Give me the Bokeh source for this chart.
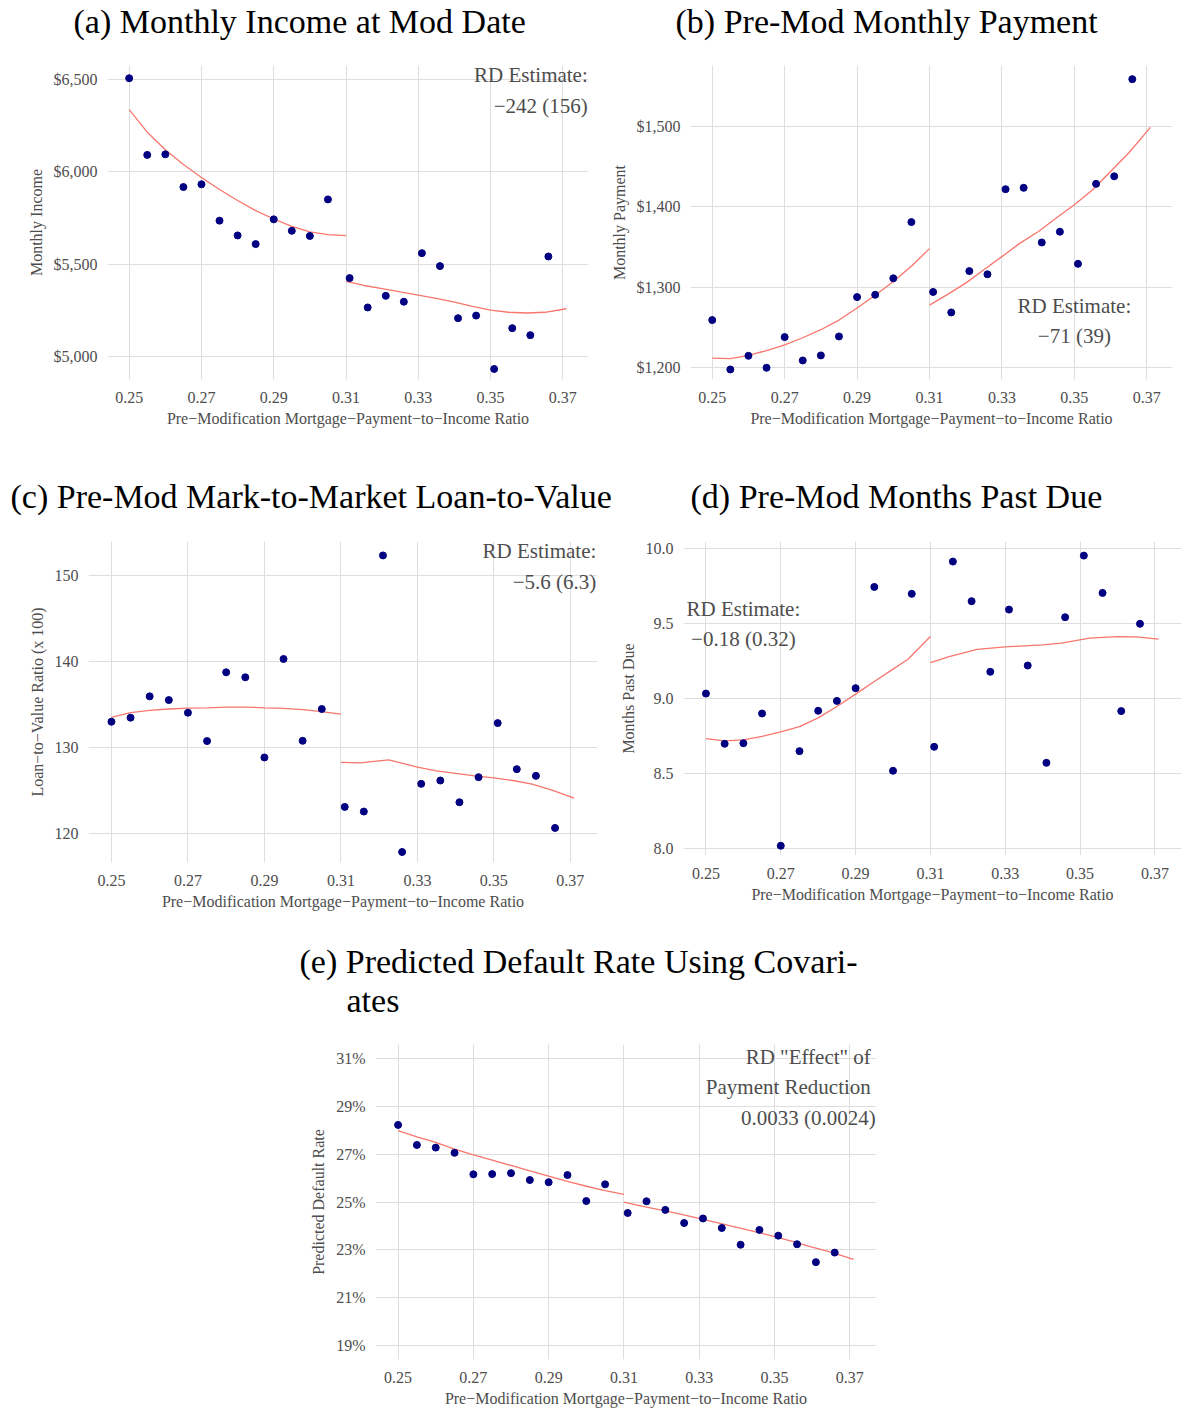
from bokeh.plotting import figure
from bokeh.models import Range1d, FixedTicker, Title, ColumnDataSource
from bokeh.layouts import column, row
from bokeh.embed import file_html
from bokeh.resources import INLINE
from bokeh.core.properties import value

FONT = "Liberation Serif"
TXT = "#4d4d4d"
GRID = "#dedede"
PT = "#000080"
FIT = "#F8766D"

# ---------------- data ----------------
x_left = [0.250, 0.255, 0.260, 0.265, 0.270, 0.275, 0.280, 0.285, 0.290, 0.295, 0.300, 0.305]
x_right = [0.311, 0.316, 0.321, 0.326, 0.331, 0.336, 0.341, 0.346, 0.351, 0.356, 0.361, 0.366]

fit_x_left = [0.250, 0.255, 0.260, 0.265, 0.270, 0.275, 0.280, 0.285, 0.290, 0.295, 0.300, 0.305, 0.310]
fit_x_right = [0.310, 0.315, 0.320, 0.325, 0.330, 0.335, 0.340, 0.345, 0.350, 0.355, 0.360, 0.365, 0.371]

income_left = [6507, 6092, 6095, 5918, 5933, 5736, 5656, 5609, 5743, 5681, 5653, 5851]
income_right = [5425, 5266, 5329, 5297, 5560, 5490, 5208, 5222, 4933, 5154, 5116, 5542]
income_fit_left = [6337, 6215, 6120, 6040, 5970, 5905, 5845, 5790, 5745, 5705, 5675, 5660, 5655]
income_fit_right = [5407, 5385, 5368, 5350, 5333, 5315, 5295, 5272, 5252, 5240, 5236, 5240, 5259]

payment_left = [1259, 1197.5, 1214.5, 1199.6, 1237.8, 1208.7, 1215, 1238.6, 1287.6, 1290.5, 1311, 1381]
payment_right = [1294, 1268.5, 1320, 1316, 1422, 1423.7, 1355.6, 1369, 1329, 1428.6, 1438, 1559]
payment_fit_left = [1211.6, 1211, 1215, 1221, 1228, 1237, 1247, 1259, 1274, 1290, 1307, 1326, 1348]
payment_fit_right = [1277.6, 1291, 1305, 1321.6, 1338, 1354.8, 1369, 1386, 1402.5, 1421, 1444, 1467, 1499]

ltv_left = [132.98, 133.45, 135.93, 135.5, 134.03, 130.73, 138.73, 138.15, 128.82, 140.28, 130.76, 134.46]
ltv_right = [123.07, 122.53, 152.33, 117.82, 125.75, 126.14, 123.61, 126.53, 132.82, 127.46, 126.68, 120.62]
ltv_fit_left = [133.48, 134.03, 134.3, 134.46, 134.57, 134.6, 134.69, 134.69, 134.6, 134.53, 134.38, 134.15, 133.87]
ltv_fit_x_right = [0.310, 0.315, 0.3225, 0.330, 0.335, 0.340, 0.345, 0.350, 0.355, 0.360, 0.365, 0.371]
ltv_fit_right = [128.24, 128.2, 128.55, 127.7, 127.27, 126.96, 126.68, 126.45, 126.14, 125.71, 125.05, 124.1]

mpd_left = [9.033, 8.698, 8.702, 8.9, 8.018, 8.649, 8.918, 8.984, 9.069, 9.744, 8.518, 9.698]
mpd_right = [8.678, 9.913, 9.649, 9.178, 9.593, 9.22, 8.571, 9.542, 9.953, 9.704, 8.916, 9.498]
mpd_fit_x_left = [0.250, 0.255, 0.260, 0.265, 0.270, 0.275, 0.280, 0.285, 0.290, 0.295, 0.300, 0.304, 0.310]
mpd_fit_left = [8.733, 8.718, 8.724, 8.747, 8.778, 8.813, 8.871, 8.947, 9.029, 9.113, 9.196, 9.262, 9.413]
mpd_fit_x_right = [0.310, 0.315, 0.3225, 0.330, 0.340, 0.345, 0.3525, 0.360, 0.365, 0.371]
mpd_fit_right = [9.24, 9.28, 9.327, 9.344, 9.358, 9.369, 9.402, 9.413, 9.411, 9.396]

pdr_left = [0.2823, 0.2739, 0.2728, 0.2706, 0.2616, 0.2617, 0.2621, 0.2592, 0.2583, 0.2613, 0.2504, 0.2574]
pdr_right = [0.2454, 0.2503, 0.2467, 0.2412, 0.2431, 0.2391, 0.2321, 0.2383, 0.2359, 0.2323, 0.2248, 0.2288]
pdr_fit_left = [0.2799, 0.2773, 0.2750, 0.2722, 0.2697, 0.2675, 0.2653, 0.2630, 0.2608, 0.2586, 0.2566, 0.2548, 0.2532]
pdr_fit_right = [0.2499, 0.2482, 0.2466, 0.2449, 0.2431, 0.2413, 0.2394, 0.2375, 0.2355, 0.2334, 0.2311, 0.2290, 0.2260]

# tick values and labels
x_ticks = [0.25, 0.27, 0.29, 0.31, 0.33, 0.35, 0.37]
x_tick_labels = ["0.25", "0.27", "0.29", "0.31", "0.33", "0.35", "0.37"]
income_ticks = [5000, 5500, 6000, 6500]
income_tick_labels = ["$5,000", "$5,500", "$6,000", "$6,500"]
payment_ticks = [1200, 1300, 1400, 1500]
payment_tick_labels = ["$1,200", "$1,300", "$1,400", "$1,500"]
ltv_ticks = [120, 130, 140, 150]
ltv_tick_labels = ["120", "130", "140", "150"]
mpd_ticks = [8.0, 8.5, 9.0, 9.5, 10.0]
mpd_tick_labels = ["8.0", "8.5", "9.0", "9.5", "10.0"]
pdr_ticks = [0.19, 0.21, 0.23, 0.25, 0.27, 0.29, 0.31]
pdr_tick_labels = ["19%", "21%", "23%", "25%", "27%", "29%", "31%"]

# annotation texts (data coordinates)
ann_a = dict(x=[0.3769, 0.3769], y=[6527, 6359], text=["RD Estimate:", "\u2212242 (156)"])
ann_b = dict(x=[0.350, 0.350], y=[1276.4, 1239.1], text=["RD Estimate:", "\u221271 (39)"])
ann_c = dict(x=[0.3768, 0.3768], y=[152.8, 149.2], text=["RD Estimate:", "\u22125.6 (6.3)"])
ann_d = dict(x=[0.260, 0.260], y=[9.6, 9.4], text=["RD Estimate:", "\u22120.18 (0.32)"])
ann_e = dict(x=[0.3756, 0.3756, 0.3769], y=[0.3108, 0.2980, 0.2852],
             text=['RD "Effect" of', "Payment Reduction", "0.0033 (0.0024)"])

X_LABEL = "Pre\u2212Modification Mortgage\u2212Payment\u2212to\u2212Income Ratio"


def panel(frame_w, frame_h, bl, br, bb, y_rng, yt, ytl, ylab, yl, yr, fxl, fyl, fxr, fyr,
          ann, ann_align, titles, spacer):
    p = figure(frame_width=frame_w, frame_height=frame_h,
               x_range=Range1d(0.2440, 0.3771), y_range=Range1d(*y_rng),
               output_backend="svg", toolbar_location=None,
               min_border_left=bl, min_border_right=br, min_border_top=0, min_border_bottom=bb,
               background_fill_color="white", border_fill_color="white")
    p.outline_line_color = None
    p.xaxis.ticker = FixedTicker(ticks=x_ticks)
    p.xaxis.major_label_overrides = dict(zip(x_ticks, x_tick_labels))
    p.yaxis.ticker = FixedTicker(ticks=yt)
    p.yaxis.major_label_overrides = dict(zip(yt, ytl))
    for ax in (p.xaxis, p.yaxis):
        ax.axis_line_color = None
        ax.major_tick_line_color = None
        ax.minor_tick_line_color = None
        ax.major_tick_in = 0
        ax.major_tick_out = 0
        ax.major_label_text_font = FONT
        ax.major_label_text_font_size = "16px"
        ax.major_label_text_color = TXT
        ax.axis_label_text_font = FONT
        ax.axis_label_text_font_size = "16px"
        ax.axis_label_text_font_style = "normal"
        ax.axis_label_text_color = TXT
    p.xaxis.major_label_standoff = 12
    p.xaxis.axis_label_standoff = 4
    p.yaxis.major_label_standoff = 10
    p.yaxis.axis_label_standoff = 6
    p.xaxis.axis_label = X_LABEL
    p.yaxis.axis_label = ylab
    p.xgrid.grid_line_color = GRID
    p.ygrid.grid_line_color = GRID
    p.xgrid.grid_line_width = 1
    p.ygrid.grid_line_width = 1

    p.line(fxl, fyl, line_color=FIT, line_width=1.3)
    p.line(fxr, fyr, line_color=FIT, line_width=1.3)
    p.scatter(x_left, yl, size=7, fill_color=PT, line_color=PT)
    p.scatter(x_right, yr, size=7, fill_color=PT, line_color=PT)

    p.text(x="x", y="y", text="text", source=ColumnDataSource(ann),
           text_font=value(FONT), text_font_size="21px", text_color=TXT,
           text_align=ann_align, text_baseline="middle")

    p.add_layout(Title(text=" ", text_font_size="1px", standoff=spacer), "above")
    for txt, off in titles:
        p.add_layout(Title(text=txt, align="left", offset=off, text_font=FONT,
                           text_font_size="34px", text_font_style="normal",
                           text_color="black", standoff=0), "above")
    return p


# frames (page px): A x107-588 y66-380 | B x690-1172 | C x88-597 y543-864 | D x683-1181 y543-857 | E x375-876 y1048-1363
pa = panel(481, 314, 107, 12, 96, (4876, 6576), income_ticks, income_tick_labels, "Monthly Income",
           income_left, income_right, fit_x_left, income_fit_left, fit_x_right, income_fit_right,
           ann_a, "right", [("(a) Monthly Income at Mod Date", -34)], 23)
pb = panel(482, 314, 90, 11, 96, (1185, 1576), payment_ticks, payment_tick_labels, "Monthly Payment",
           payment_left, payment_right, fit_x_left, payment_fit_left, fit_x_right, payment_fit_right,
           ann_b, "center", [("(b) Pre-Mod Monthly Payment", -15)], 23)
pc = panel(509, 321, 88, 19, 78, (116.6, 153.95), ltv_ticks, ltv_tick_labels,
           "Loan\u2212to\u2212Value Ratio (x 100)",
           ltv_left, ltv_right, fit_x_left, ltv_fit_left, ltv_fit_x_right, ltv_fit_right,
           ann_c, "right", [("(c) Pre-Mod Mark-to-Market Loan-to-Value", -78)], 24)
pd_ = panel(498, 314, 67, 2, 85, (7.953, 10.047), mpd_ticks, mpd_tick_labels, "Months Past Due",
            mpd_left, mpd_right, mpd_fit_x_left, mpd_fit_left, mpd_fit_x_right, mpd_fit_right,
            ann_d, "center", [("(d) Pre-Mod Months Past Due", 7)], 24)
pe = panel(501, 315, 375, 5, 47, (0.184, 0.316), pdr_ticks, pdr_tick_labels, "Predicted Default Rate",
           pdr_left, pdr_right, fit_x_left, pdr_fit_left, fit_x_right, pdr_fit_right,
           ann_e, "right", [("ates", -29), ("(e) Predicted Default Rate Using Covari-", -76)], 23)

layout = column(row(pa, pb), row(pc, pd_), pe)
open("out.html", "w").write(file_html(layout, INLINE))
